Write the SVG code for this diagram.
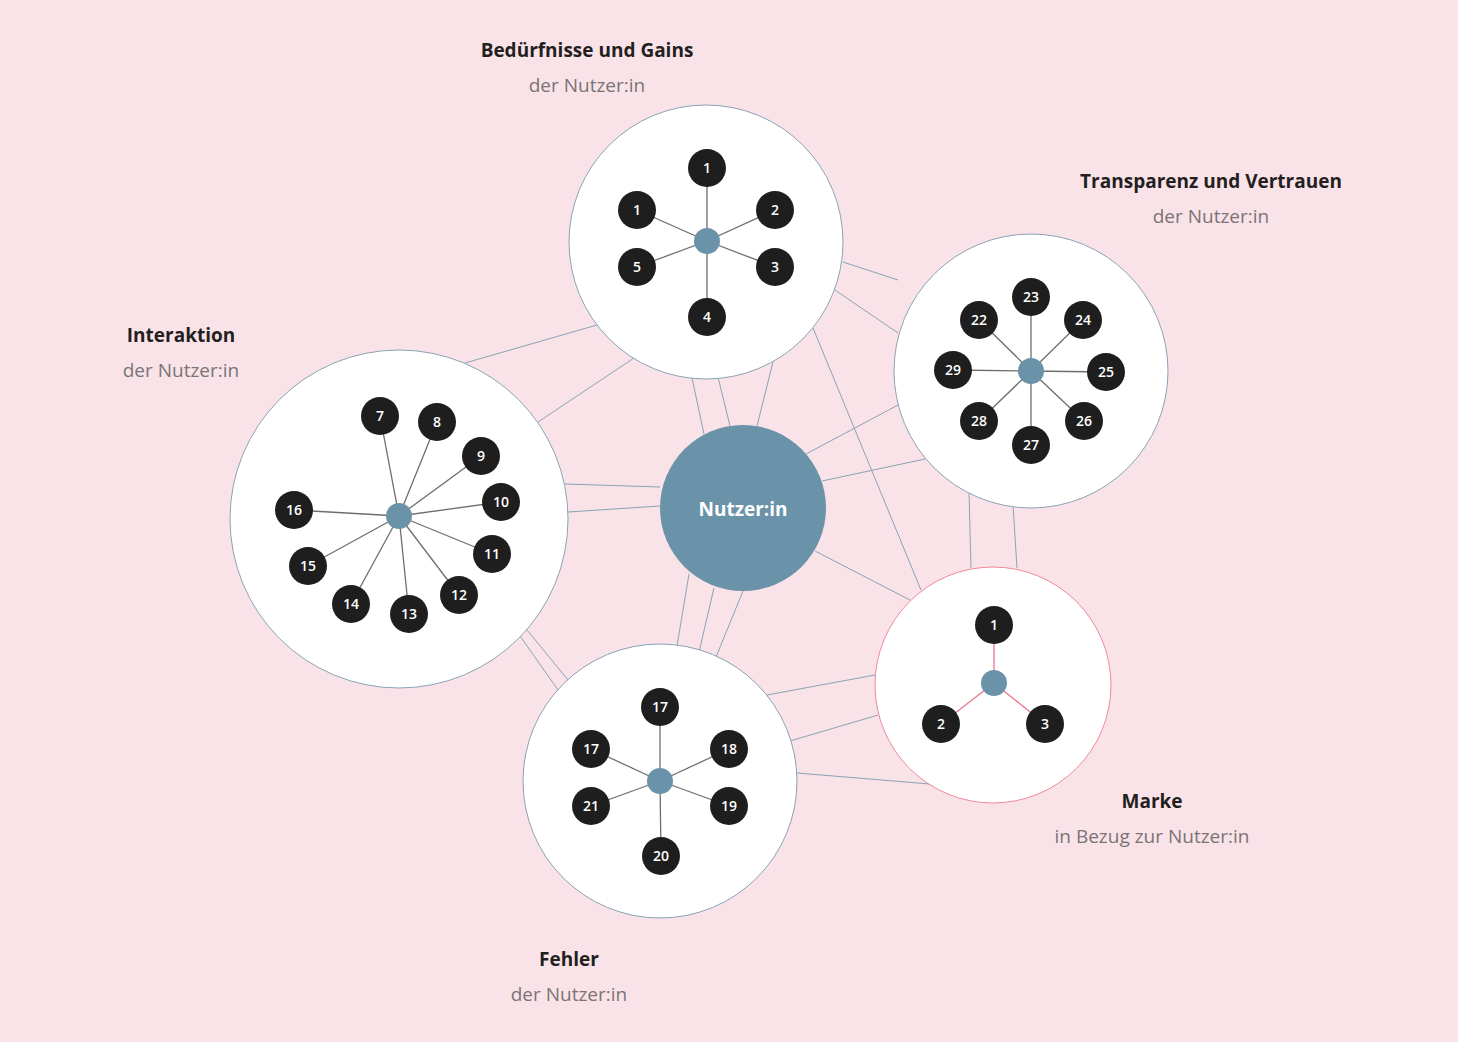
<svg xmlns="http://www.w3.org/2000/svg" width="1458" height="1042" viewBox="0 0 1458 1042">
<style>
.big{fill:#fff;stroke:#8aa3b5;stroke-width:1}
.n{fill:#1e1e1e}
.hub{fill:#6a93a9}
.nt{fill:#fff;font:600 14px "Open Sans","DejaVu Sans",sans-serif;text-anchor:middle}
.sp line{stroke:#6e6e6e;stroke-width:1.3}
.sp.pk line{stroke:#e8788a}
.c line{stroke:#8aa3b5;stroke-width:1}
.h{font:bold 19px "Open Sans","DejaVu Sans",sans-serif;fill:#231f20;text-anchor:middle}
.s{font:19px "Open Sans","DejaVu Sans",sans-serif;fill:#7a7475;text-anchor:middle}
</style>
<rect width="1458" height="1042" fill="#f9e3e8"/>
<g id="connectors" class="c">
<line x1="692" y1="378" x2="704" y2="434"/><line x1="718" y1="377" x2="730" y2="426"/><line x1="773" y1="362" x2="757" y2="426"/>
<line x1="465" y1="363" x2="597" y2="325"/><line x1="538" y1="422" x2="634" y2="358"/>
<line x1="565" y1="484" x2="660" y2="487"/><line x1="568" y1="512" x2="660" y2="506"/>
<line x1="806" y1="454" x2="898" y2="405"/><line x1="822" y1="481" x2="925" y2="459"/>
<line x1="843" y1="262" x2="898" y2="280"/><line x1="835" y1="290" x2="898" y2="333"/>
<line x1="813" y1="328" x2="921" y2="590"/>
<line x1="969" y1="492" x2="971" y2="568"/><line x1="1013" y1="505" x2="1017" y2="568"/>
<line x1="815" y1="551" x2="910" y2="600"/>
<line x1="689" y1="574" x2="677" y2="646"/><line x1="714" y1="588" x2="699" y2="652"/><line x1="743" y1="591" x2="716" y2="657"/>
<line x1="520" y1="636" x2="558" y2="690"/><line x1="527" y1="630" x2="568" y2="680"/>
<line x1="767" y1="695" x2="875" y2="675"/><line x1="790" y1="741" x2="878" y2="715"/><line x1="797" y1="773" x2="930" y2="784"/>
</g>
<g id="top">
<circle class="big" cx="706" cy="242" r="137"/>
<g class="sp"><line x1="707" y1="241" x2="707" y2="168"/><line x1="707" y1="241" x2="637" y2="210"/><line x1="707" y1="241" x2="775" y2="210"/><line x1="707" y1="241" x2="637" y2="267"/><line x1="707" y1="241" x2="775" y2="267"/><line x1="707" y1="241" x2="707" y2="317"/></g>
<circle class="hub" cx="707" cy="241" r="13"/>
<circle class="n" cx="707" cy="168" r="19"/><text class="nt" x="707" y="173">1</text>
<circle class="n" cx="637" cy="210" r="19"/><text class="nt" x="637" y="215">1</text>
<circle class="n" cx="775" cy="210" r="19"/><text class="nt" x="775" y="215">2</text>
<circle class="n" cx="637" cy="267" r="19"/><text class="nt" x="637" y="272">5</text>
<circle class="n" cx="775" cy="267" r="19"/><text class="nt" x="775" y="272">3</text>
<circle class="n" cx="707" cy="317" r="19"/><text class="nt" x="707" y="322">4</text>
</g>
<g id="right">
<circle class="big" cx="1031" cy="371" r="137"/>
<g class="sp"><line x1="1031" y1="371" x2="1031" y2="297"/><line x1="1031" y1="371" x2="979" y2="320"/><line x1="1031" y1="371" x2="1083" y2="320"/><line x1="1031" y1="371" x2="953" y2="370"/><line x1="1031" y1="371" x2="1106" y2="372"/><line x1="1031" y1="371" x2="979" y2="421"/><line x1="1031" y1="371" x2="1084" y2="421"/><line x1="1031" y1="371" x2="1031" y2="445"/></g>
<circle class="hub" cx="1031" cy="371" r="13"/>
<circle class="n" cx="1031" cy="297" r="19"/><text class="nt" x="1031" y="302">23</text>
<circle class="n" cx="979" cy="320" r="19"/><text class="nt" x="979" y="325">22</text>
<circle class="n" cx="1083" cy="320" r="19"/><text class="nt" x="1083" y="325">24</text>
<circle class="n" cx="953" cy="370" r="19"/><text class="nt" x="953" y="375">29</text>
<circle class="n" cx="1106" cy="372" r="19"/><text class="nt" x="1106" y="377">25</text>
<circle class="n" cx="979" cy="421" r="19"/><text class="nt" x="979" y="426">28</text>
<circle class="n" cx="1084" cy="421" r="19"/><text class="nt" x="1084" y="426">26</text>
<circle class="n" cx="1031" cy="445" r="19"/><text class="nt" x="1031" y="450">27</text>
</g>
<g id="left">
<circle class="big" cx="399" cy="519" r="169"/>
<g class="sp"><line x1="399" y1="516" x2="380" y2="416"/><line x1="399" y1="516" x2="437" y2="422"/><line x1="399" y1="516" x2="481" y2="456"/><line x1="399" y1="516" x2="501" y2="502"/><line x1="399" y1="516" x2="294" y2="510"/><line x1="399" y1="516" x2="492" y2="554"/><line x1="399" y1="516" x2="308" y2="566"/><line x1="399" y1="516" x2="459" y2="595"/><line x1="399" y1="516" x2="351" y2="604"/><line x1="399" y1="516" x2="409" y2="614"/></g>
<circle class="hub" cx="399" cy="516" r="13"/>
<circle class="n" cx="380" cy="416" r="19"/><text class="nt" x="380" y="421">7</text>
<circle class="n" cx="437" cy="422" r="19"/><text class="nt" x="437" y="427">8</text>
<circle class="n" cx="481" cy="456" r="19"/><text class="nt" x="481" y="461">9</text>
<circle class="n" cx="501" cy="502" r="19"/><text class="nt" x="501" y="507">10</text>
<circle class="n" cx="294" cy="510" r="19"/><text class="nt" x="294" y="515">16</text>
<circle class="n" cx="492" cy="554" r="19"/><text class="nt" x="492" y="559">11</text>
<circle class="n" cx="308" cy="566" r="19"/><text class="nt" x="308" y="571">15</text>
<circle class="n" cx="459" cy="595" r="19"/><text class="nt" x="459" y="600">12</text>
<circle class="n" cx="351" cy="604" r="19"/><text class="nt" x="351" y="609">14</text>
<circle class="n" cx="409" cy="614" r="19"/><text class="nt" x="409" y="619">13</text>
</g>
<g id="bottom">
<circle class="big" cx="660" cy="781" r="137"/>
<g class="sp"><line x1="660" y1="781" x2="660" y2="707"/><line x1="660" y1="781" x2="591" y2="749"/><line x1="660" y1="781" x2="729" y2="749"/><line x1="660" y1="781" x2="591" y2="806"/><line x1="660" y1="781" x2="729" y2="806"/><line x1="660" y1="781" x2="661" y2="856"/></g>
<circle class="hub" cx="660" cy="781" r="13"/>
<circle class="n" cx="660" cy="707" r="19"/><text class="nt" x="660" y="712">17</text>
<circle class="n" cx="591" cy="749" r="19"/><text class="nt" x="591" y="754">17</text>
<circle class="n" cx="729" cy="749" r="19"/><text class="nt" x="729" y="754">18</text>
<circle class="n" cx="591" cy="806" r="19"/><text class="nt" x="591" y="811">21</text>
<circle class="n" cx="729" cy="806" r="19"/><text class="nt" x="729" y="811">19</text>
<circle class="n" cx="661" cy="856" r="19"/><text class="nt" x="661" y="861">20</text>
</g>
<g id="marke">
<circle cx="993" cy="685" r="118" fill="#fff" stroke="#ef8a9a"/>
<g class="sp pk"><line x1="994" y1="683" x2="994" y2="625"/><line x1="994" y1="683" x2="941" y2="724"/><line x1="994" y1="683" x2="1045" y2="724"/></g>
<circle class="hub" cx="994" cy="683" r="13"/>
<circle class="n" cx="994" cy="625" r="19"/><text class="nt" x="994" y="630">1</text>
<circle class="n" cx="941" cy="724" r="19"/><text class="nt" x="941" y="729">2</text>
<circle class="n" cx="1045" cy="724" r="19"/><text class="nt" x="1045" y="729">3</text>
</g>
<g id="center">
<circle cx="743" cy="508" r="83" fill="#6a93a9"/>
<text x="743" y="516" fill="#fff" style="font:bold 19px 'Open Sans','DejaVu Sans',sans-serif;text-anchor:middle">Nutzer:in</text>
</g>
<g id="labels">
<text class="h" x="587" y="57">Bedürfnisse und Gains</text><text class="s" x="587" y="92">der Nutzer:in</text>
<text class="h" x="1211" y="188">Transparenz und Vertrauen</text><text class="s" x="1211" y="223">der Nutzer:in</text>
<text class="h" x="181" y="342">Interaktion</text><text class="s" x="181" y="377">der Nutzer:in</text>
<text class="h" x="1152" y="808">Marke</text><text class="s" x="1152" y="843">in Bezug zur Nutzer:in</text>
<text class="h" x="569" y="966">Fehler</text><text class="s" x="569" y="1001">der Nutzer:in</text>
</g>
</svg>
